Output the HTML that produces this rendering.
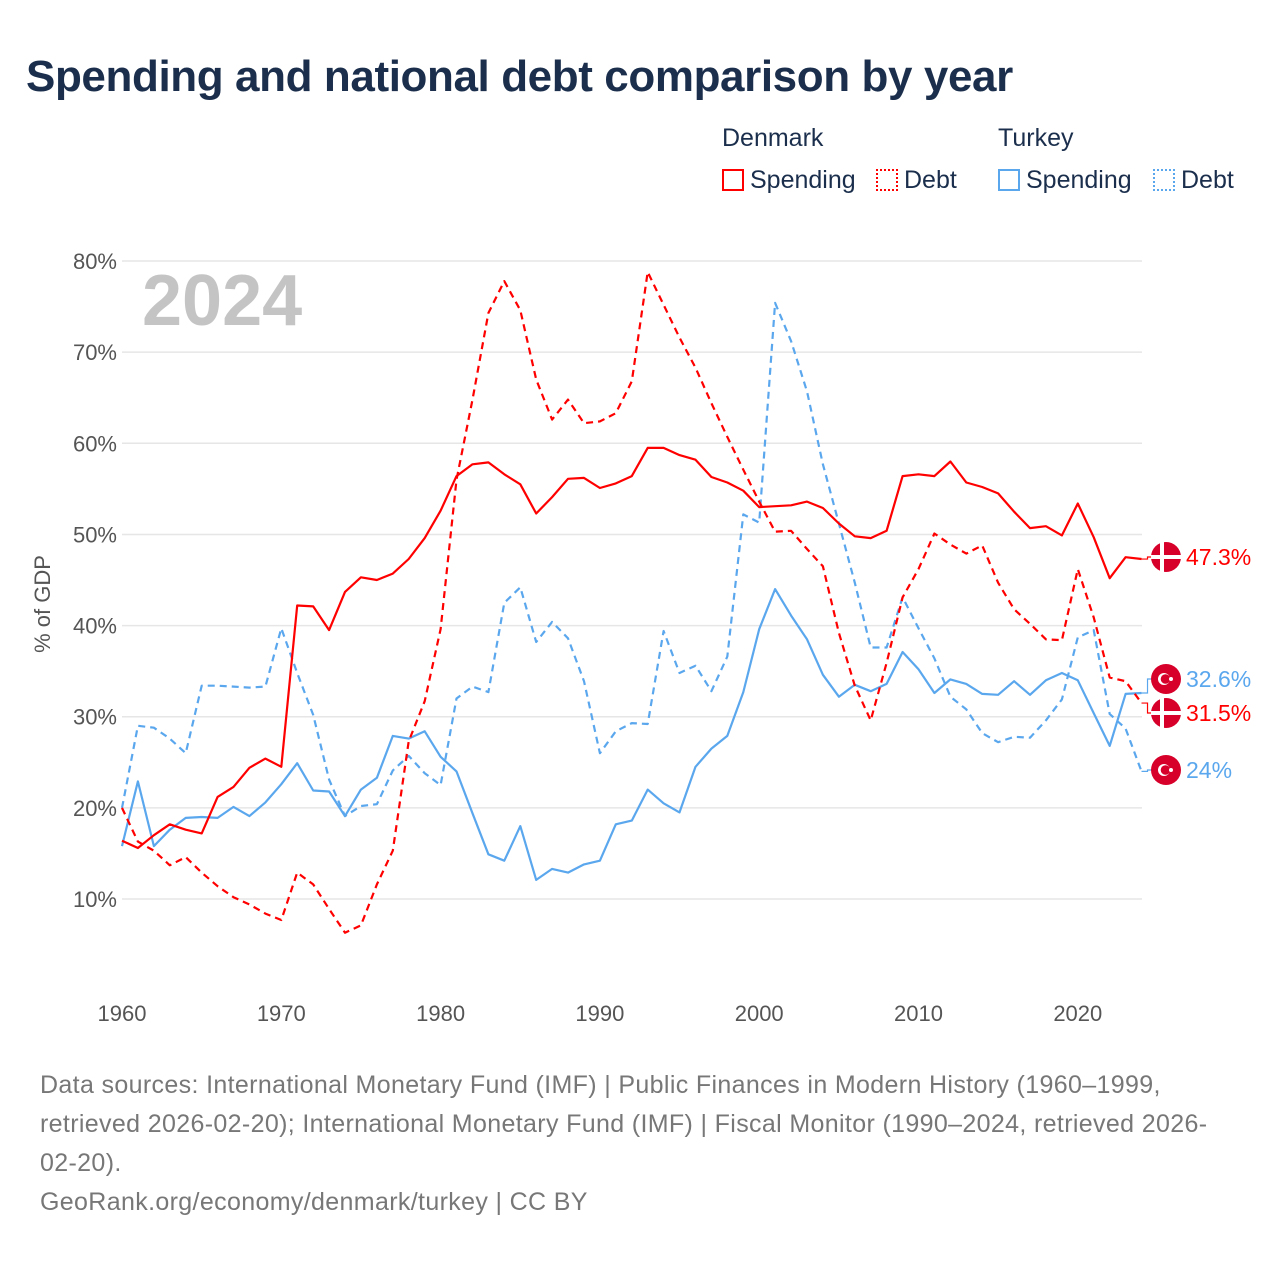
<!DOCTYPE html>
<html><head><meta charset="utf-8"><style>
body{margin:0;background:#fff;font-family:"Liberation Sans",sans-serif}
#wrap{position:relative;width:1280px;height:1280px;overflow:hidden}
.t{position:absolute;white-space:nowrap}
</style></head><body>
<div id="wrap">
<div class="t" style="left:26px;top:52px;font-size:44px;font-weight:bold;color:#1b2f4d;letter-spacing:-0.4px">Spending and national debt comparison by year</div>
<div class="t" style="left:722px;top:124px;font-size:25px;color:#1b2f4d">Denmark</div>
<div class="t" style="left:998px;top:124px;font-size:25px;color:#1b2f4d">Turkey</div>
<div class="t" style="left:722px;top:166px;font-size:25px;color:#1b2f4d"><span style="display:inline-block;width:22px;height:22px;border:2px solid #f00;box-sizing:border-box;vertical-align:-3px;margin-right:6px"></span>Spending</div>
<div class="t" style="left:876px;top:166px;font-size:25px;color:#1b2f4d"><span style="display:inline-block;width:22px;height:22px;border:2px dotted #f00;box-sizing:border-box;vertical-align:-3px;margin-right:6px"></span>Debt</div>
<div class="t" style="left:998px;top:166px;font-size:25px;color:#1b2f4d"><span style="display:inline-block;width:22px;height:22px;border:2px solid #5ba7ee;box-sizing:border-box;vertical-align:-3px;margin-right:6px"></span>Spending</div>
<div class="t" style="left:1153px;top:166px;font-size:25px;color:#1b2f4d"><span style="display:inline-block;width:22px;height:22px;border:2px dotted #5ba7ee;box-sizing:border-box;vertical-align:-3px;margin-right:6px"></span>Debt</div>
<svg id="chart" width="1280" height="1280" style="position:absolute;left:0;top:0" font-family="Liberation Sans, sans-serif"></svg>
<div class="t" style="left:40px;top:1066px;font-size:25px;line-height:39px;color:#777;letter-spacing:0.35px">Data sources: International Monetary Fund (IMF) | Public Finances in Modern History (1960–1999,<br>retrieved 2026-02-20); International Monetary Fund (IMF) | Fiscal Monitor (1990–2024, retrieved 2026-<br>02-20).<br>GeoRank.org/economy/denmark/turkey | CC BY</div>
</div>
<script>
const years=[];for(let y=1960;y<=2024;y++)years.push(y);
const dkSpending=[16.4,15.6,17,18.2,17.6,17.2,21.2,22.3,24.4,25.4,24.5,42.2,42.1,39.5,43.7,45.3,45.0,45.7,47.3,49.6,52.6,56.4,57.7,57.9,56.6,55.5,52.3,54.1,56.1,56.2,55.1,55.6,56.4,59.5,59.5,58.7,58.2,56.3,55.7,54.8,53.0,53.1,53.2,53.6,52.9,51.2,49.8,49.6,50.4,56.4,56.6,56.4,58.0,55.7,55.2,54.5,52.5,50.7,50.9,49.9,53.4,49.7,45.2,47.5,47.3];
const dkDebt=[20.0,16.3,15.3,13.7,14.6,12.9,11.4,10.2,9.4,8.4,7.7,12.9,11.6,8.9,6.3,7.1,11.6,15.3,27.3,31.7,39.6,56.0,64.8,74.3,77.8,74.6,67.0,62.6,64.8,62.2,62.4,63.3,66.8,78.8,75.2,71.6,68.3,64.4,60.7,57.1,53.6,50.3,50.4,48.4,46.5,39.2,33.4,29.6,35.9,43.1,46.2,50.1,48.9,47.9,48.8,44.7,41.8,40.2,38.5,38.4,46.2,40.9,34.3,33.9,31.5];
const trSpending=[15.8,22.9,15.8,17.6,18.9,19.0,18.9,20.1,19.1,20.6,22.6,24.9,21.9,21.8,19.1,22.0,23.3,27.9,27.6,28.4,25.6,24.0,19.4,14.9,14.2,18.0,12.1,13.3,12.9,13.8,14.2,18.2,18.6,22.0,20.5,19.5,24.5,26.5,27.9,32.7,39.6,44.0,41.1,38.5,34.6,32.2,33.5,32.8,33.6,37.1,35.2,32.6,34.1,33.6,32.5,32.4,33.9,32.4,34.0,34.8,34.0,30.4,26.8,32.5,32.6];
const trDebt=[20.0,29.0,28.8,27.6,26.0,33.4,33.4,33.3,33.2,33.3,39.7,34.8,30.2,23.1,19.1,20.2,20.4,24.1,25.7,23.8,22.5,32.0,33.3,32.7,42.5,44.2,38.2,40.4,38.6,33.9,26.0,28.4,29.3,29.2,39.4,34.8,35.6,32.8,36.6,52.2,51.3,75.4,71.2,65.7,57.7,51.2,44.7,37.6,37.6,43.1,39.7,36.4,32.2,30.8,28.2,27.2,27.8,27.7,29.6,31.9,38.7,39.5,30.3,28.7,24.0];
const yTicks=[10,20,30,40,50,60,70,80];
const xTicks=[1960,1970,1980,1990,2000,2010,2020];
const NS='http://www.w3.org/2000/svg';
const svg=document.getElementById('chart');
const X=y=>122+(y-1960)*15.93;
const Y=v=>899-(v-10)*9.114;
function mk(tag,attrs,parent){const e=document.createElementNS(NS,tag);for(const k in attrs)e.setAttribute(k,attrs[k]);(parent||svg).appendChild(e);return e;}
yTicks.forEach(t=>{
  const l=mk('line',{x1:122,x2:1142,y1:Y(t),y2:Y(t),stroke:'#e6e6e6','stroke-width':1.5});
  
  
  const tx=mk('text',{x:117,y:Y(t)+8,'text-anchor':'end','font-size':22,fill:'#555'});tx.textContent=t+'%';
  
  
});
xTicks.forEach(t=>{
  const tx=mk('text',{x:X(t),y:1021,'text-anchor':'middle','font-size':22,fill:'#555'});tx.textContent=t;
  
  
});
const yt=mk('text',{x:0,y:0,transform:'translate(50,604) rotate(-90)','text-anchor':'middle','font-size':22,fill:'#555'});yt.textContent='% of GDP';


const yr=mk('text',{x:142,y:325,'font-size':72,'font-weight':'bold',fill:'#c4c4c4'});yr.textContent='2024';


function series(vals,color,dash,name){
  const d=vals.map((v,i)=>(i?'L':'M')+X(years[i]).toFixed(1)+','+Y(v).toFixed(1)).join('');
  const p=mk('path',{d:d,fill:'none',stroke:color,'stroke-width':2.2,'stroke-dasharray':dash||'none','stroke-linejoin':'round'});
  
  
}
series(trDebt,'#5ba7ee','7 5','turkey-debt-line');
series(trSpending,'#5ba7ee',null,'turkey-spending-line');
series(dkDebt,'#f00','7 5','denmark-debt-line');
series(dkSpending,'#f00',null,'denmark-spending-line');
function endLabel(v,labelY,color,flag,name){
  const x0=X(2024),yv=Y(v);
  const c=mk('path',{d:`M${x0},${yv}H${x0+6}V${labelY}H${x0+12}`,fill:'none',stroke:color,'stroke-width':1.2});
  
  
  const g=mk('g',{});
  
  
  const cx=1166;
  mk('circle',{cx:cx,cy:labelY,r:15,fill:'#d7002a'},g);
  if(flag==='dk'){
    mk('rect',{x:cx-6,y:labelY-15,width:4,height:30,fill:'#fff'},g);
    mk('rect',{x:cx-15,y:labelY-2,width:30,height:4,fill:'#fff'},g);
  }else{
    mk('circle',{cx:cx-2,cy:labelY,r:6,fill:'#fff'},g);
    mk('circle',{cx:cx-0.5,cy:labelY,r:4.8,fill:'#d7002a'},g);
    mk('circle',{cx:cx+5,cy:labelY,r:2,fill:'#fff'},g);
  }
  const t=mk('text',{x:1186,y:labelY+8,'font-size':23,fill:color});t.textContent=(Math.round(v*10)/10)+'%';
  
  
}
endLabel(dkSpending[64],557,'#f00','dk','denmark-spending');
endLabel(trSpending[64],679,'#5ba7ee','tr','turkey-spending');
endLabel(dkDebt[64],713,'#f00','dk','denmark-debt');
endLabel(trDebt[64],770,'#5ba7ee','tr','turkey-debt');
</script>
</body></html>
